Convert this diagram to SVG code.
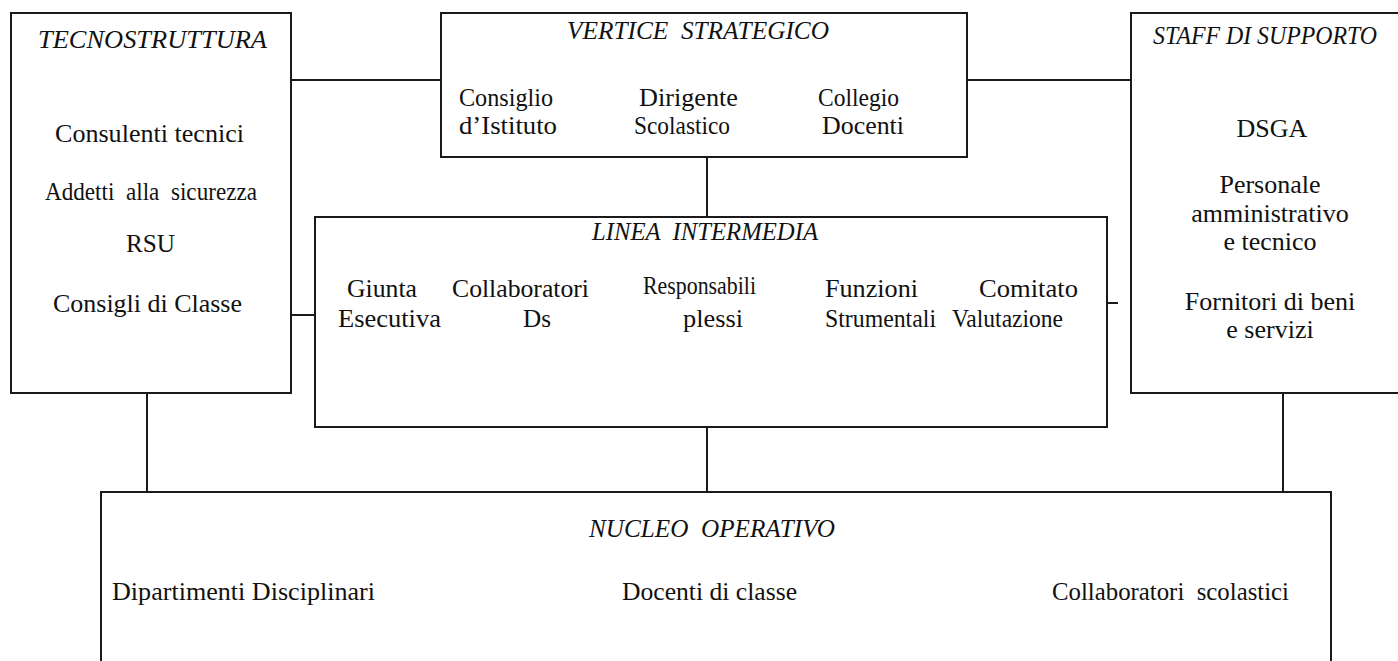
<svg xmlns="http://www.w3.org/2000/svg" width="1398" height="661" viewBox="0 0 1398 661">
<style>
.box{fill:#fff;stroke:#1a1a1a;stroke-width:2}
.ln{stroke:#1a1a1a;stroke-width:2;fill:none}
text{font-family:"Liberation Serif","Times New Roman",serif;fill:#111;font-size:26px}
.h{font-style:italic}
.c{text-anchor:middle}
</style>
<rect width="1398" height="661" fill="#fff"/>
<g id="connectors">
<line class="ln" x1="291" y1="80" x2="441" y2="80"/>
<line class="ln" x1="967" y1="80" x2="1131" y2="80"/>
<line class="ln" x1="707" y1="157" x2="707" y2="217"/>
<line class="ln" x1="291" y1="315" x2="315" y2="315"/>
<line class="ln" x1="1107" y1="303" x2="1118" y2="303"/>
<line class="ln" x1="147" y1="393" x2="147" y2="492"/>
<line class="ln" x1="707" y1="427" x2="707" y2="492"/>
<line class="ln" x1="1283" y1="393" x2="1283" y2="492"/>
</g>
<g id="tecnostruttura">
<rect class="box" x="11" y="13" width="280" height="380"/>
<text class="h" x="38" y="48" textLength="229" lengthAdjust="spacingAndGlyphs">TECNOSTRUTTURA</text>
<text x="55" y="142" textLength="189" lengthAdjust="spacingAndGlyphs">Consulenti tecnici</text>
<text x="45" y="200" font-size="23" textLength="212" lengthAdjust="spacingAndGlyphs" xml:space="preserve">Addetti  alla  sicurezza</text>
<text x="126" y="252" textLength="49" lengthAdjust="spacingAndGlyphs">RSU</text>
<text x="53" y="312" textLength="189" lengthAdjust="spacingAndGlyphs">Consigli di Classe</text>
</g>
<g id="vertice">
<rect class="box" x="441" y="13" width="526" height="144"/>
<text class="h" x="567" y="39" font-size="23" textLength="262" lengthAdjust="spacingAndGlyphs" xml:space="preserve">VERTICE  STRATEGICO</text>
<text x="459" y="106" font-size="24" textLength="94" lengthAdjust="spacingAndGlyphs">Consiglio</text>
<text x="459" y="134" font-size="24" textLength="98" lengthAdjust="spacingAndGlyphs">d’Istituto</text>
<text x="639" y="106" font-size="24" textLength="99" lengthAdjust="spacingAndGlyphs">Dirigente</text>
<text x="634" y="134" font-size="24" textLength="96" lengthAdjust="spacingAndGlyphs">Scolastico</text>
<text x="818" y="106" font-size="24" textLength="81" lengthAdjust="spacingAndGlyphs">Collegio</text>
<text x="822" y="134" font-size="24" textLength="82" lengthAdjust="spacingAndGlyphs">Docenti</text>
</g>
<g id="staff">
<rect class="box" x="1131" y="13" width="280" height="380"/>
<text class="h" x="1153" y="44" font-size="24" textLength="224" lengthAdjust="spacingAndGlyphs">STAFF DI SUPPORTO</text>
<text class="c" x="1272" y="137">DSGA</text>
<text class="c" x="1270" y="193">Personale</text>
<text class="c" x="1270" y="222">amministrativo</text>
<text class="c" x="1270" y="250">e tecnico</text>
<text class="c" x="1270" y="310">Fornitori di beni</text>
<text class="c" x="1270" y="338">e servizi</text>
</g>
<g id="linea">
<rect class="box" x="315" y="217" width="792" height="210"/>
<text class="h" x="592" y="240" font-size="24" textLength="226" lengthAdjust="spacingAndGlyphs" xml:space="preserve">LINEA  INTERMEDIA</text>
<text x="347" y="297" textLength="70" lengthAdjust="spacingAndGlyphs">Giunta</text>
<text x="338" y="327" textLength="103" lengthAdjust="spacingAndGlyphs">Esecutiva</text>
<text x="452" y="297" textLength="137" lengthAdjust="spacingAndGlyphs">Collaboratori</text>
<text x="523" y="327" textLength="28" lengthAdjust="spacingAndGlyphs">Ds</text>
<text x="643" y="294" font-size="22" textLength="113" lengthAdjust="spacingAndGlyphs">Responsabili</text>
<text x="683" y="327" textLength="60" lengthAdjust="spacingAndGlyphs">plessi</text>
<text x="825" y="297" textLength="93" lengthAdjust="spacingAndGlyphs">Funzioni</text>
<text x="825" y="327" font-size="24" textLength="111" lengthAdjust="spacingAndGlyphs">Strumentali</text>
<text x="979" y="297" textLength="99" lengthAdjust="spacingAndGlyphs">Comitato</text>
<text x="952" y="327" font-size="24" textLength="111" lengthAdjust="spacingAndGlyphs">Valutazione</text>
</g>
<g id="nucleo">
<rect class="box" x="101" y="492" width="1230" height="190"/>
<text class="h" x="589" y="537" textLength="246" lengthAdjust="spacingAndGlyphs" xml:space="preserve">NUCLEO  OPERATIVO</text>
<text x="112" y="600" textLength="263" lengthAdjust="spacingAndGlyphs">Dipartimenti Disciplinari</text>
<text x="622" y="600" textLength="175" lengthAdjust="spacingAndGlyphs">Docenti di classe</text>
<text x="1052" y="600" textLength="237" lengthAdjust="spacingAndGlyphs" xml:space="preserve">Collaboratori  scolastici</text>
</g>
</svg>
